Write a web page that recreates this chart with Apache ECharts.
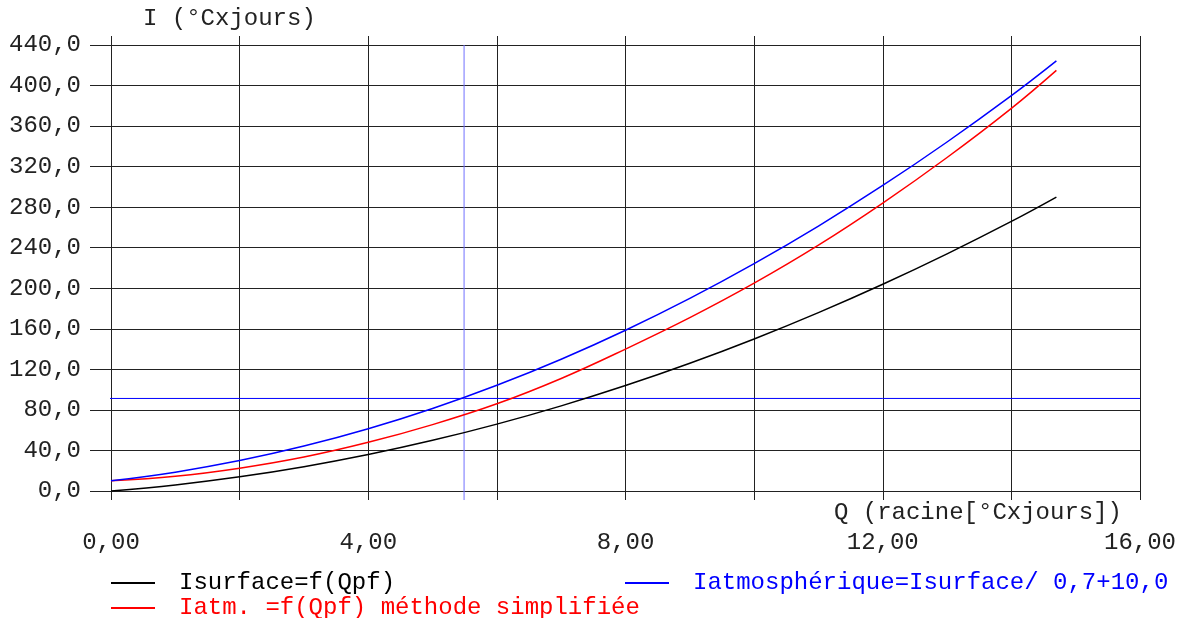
<!DOCTYPE html>
<html>
<head>
<meta charset="utf-8">
<script src="https://cdn.jsdelivr.net/npm/echarts@6/dist/echarts.min.js"></script>
<style>
  html, body { margin: 0; padding: 0; background: #fff; }
  #chart { width: 1186px; height: 618px; }
</style>
</head>
<body>
<div id="chart"></div>
<script>
// Q values (racine[°Cxjours]) at which the curves are sampled
const qValues = [0, 1, 2, 3, 4, 5, 6, 7, 8, 9, 10, 11, 12, 13, 14, 14.7];
// Isurface = f(Qpf)
const iSurface = [0, 6, 14, 24, 36, 50, 66, 84, 104, 126, 150, 176, 204, 234, 266, 290];
// Iatm. = f(Qpf), simplified method
const iAtmSimple = [10, 14.5, 22.5, 33.5, 48, 65.5, 86, 111, 140, 171, 205, 242.5, 284, 329, 377.5, 415];
// Iatmosphérique = Isurface / 0,7 + 10,0
const iAtmos = [10, 18.6, 30, 44.3, 61.4, 81.4, 104.3, 130, 158.6, 190, 224.3, 261.4, 301.4, 344.3, 390, 424.3];

// reading cursor placed on the Iatmosphérique curve
const cursorQ = 5.49;
const cursorI = 91.3;

const seriesNames = [
  'Isurface=f(Qpf)',
  'Iatm. =f(Qpf) méthode simplifiée',
  'Iatmosphérique=Isurface/ 0,7+10,0'
];
const seriesColors = ['#000000', '#ff0000', '#0000ff'];

const xMin = 0, xMax = 16, xStep = 2;
const yMin = 0, yMax = 440, yStep = 40;

const FONT = '"Liberation Mono", "Courier New", monospace';
const FS = 24;
const GRID = '#222';

function pairs(ys) { return qValues.map((q, i) => [q, ys[i]]); }
function fmtX(v) { return (v % 4 === 0) ? v.toFixed(2).replace('.', ',') : ''; }
function fmtY(v) { return v.toFixed(1).replace('.', ','); }

const chart = echarts.init(document.getElementById('chart'), null, { renderer: 'canvas' });

const curveStyle = (idx) => ({
  type: 'line',
  name: seriesNames[idx],
  showSymbol: false,
  symbol: 'none',
  smooth: 0.4,
  color: seriesColors[idx],
  lineStyle: { color: seriesColors[idx], width: 1.5 },
  z: 5
});

const legendBase = {
  orient: 'horizontal',
  icon: 'rect',
  itemWidth: 44,
  itemHeight: 2,
  padding: 0,
  selectedMode: false
};

chart.setOption({
  animation: false,
  backgroundColor: '#fff',
  textStyle: { fontFamily: FONT },
  grid: { left: 111, right: 46, top: 45, bottom: 127, containLabel: false },
  xAxis: [
    {
      type: 'value', min: xMin, max: xMax, interval: xStep, position: 'bottom',
      name: 'Q (racine[°Cxjours])', nameLocation: 'end', nameGap: -18,
      nameTextStyle: { fontFamily: FONT, fontSize: FS, color: '#222', align: 'right', verticalAlign: 'top', padding: [10, 0, 0, 0] },
      axisLine: { show: true, lineStyle: { color: GRID, width: 1 } },
      axisTick: { show: true, inside: false, length: 9, lineStyle: { color: GRID, width: 1 } },
      axisLabel: { formatter: fmtX, margin: 40, fontFamily: FONT, fontSize: FS, color: '#222', showMinLabel: true, showMaxLabel: true },
      splitLine: { show: true, lineStyle: { color: GRID, width: 1 } }
    },
    {
      type: 'value', min: xMin, max: xMax, interval: xStep, position: 'top',
      axisLine: { show: false },
      axisTick: { show: true, inside: false, length: 9, lineStyle: { color: GRID, width: 1 } },
      axisLabel: { show: false },
      splitLine: { show: false }
    }
  ],
  yAxis: {
    type: 'value', min: yMin, max: yMax, interval: yStep,
    name: 'I (°Cxjours)', nameLocation: 'end', nameGap: 26,
    nameTextStyle: { fontFamily: FONT, fontSize: FS, color: '#222', align: 'left', verticalAlign: 'middle', padding: [0, 0, 0, 32] },
    axisLine: { show: true, lineStyle: { color: GRID, width: 1 } },
    axisTick: { show: true, inside: false, length: 21, lineStyle: { color: GRID, width: 1 } },
    axisLabel: { formatter: fmtY, margin: 30, fontFamily: FONT, fontSize: FS, color: '#222' },
    splitLine: { show: true, lineStyle: { color: GRID, width: 1 } }
  },
  legend: [
    Object.assign({}, legendBase, {
      left: 111, top: 571, data: [seriesNames[0]],
      textStyle: { fontFamily: FONT, fontSize: FS, color: '#000', padding: [0, 0, 0, 19] }
    }),
    Object.assign({}, legendBase, {
      left: 111, top: 596, data: [seriesNames[1]],
      textStyle: { fontFamily: FONT, fontSize: FS, color: '#ff0000', padding: [0, 0, 0, 19] }
    }),
    Object.assign({}, legendBase, {
      left: 625, top: 571, data: [seriesNames[2]],
      textStyle: { fontFamily: FONT, fontSize: FS, color: '#0000ff', padding: [0, 0, 0, 19] }
    })
  ],
  series: [
    Object.assign(curveStyle(0), { data: pairs(iSurface) }),
    Object.assign(curveStyle(1), { data: pairs(iAtmSimple) }),
    Object.assign(curveStyle(2), { data: pairs(iAtmos) }),
    {
      // horizontal cursor line, running out past the value axis like the grid ticks
      type: 'line', name: 'cursorH', clip: false, silent: true, symbol: 'none',
      data: [[xMin - 0.4, cursorI], [xMax, cursorI]],
      lineStyle: { color: '#0000ff', width: 1 }, z: 4
    },
    {
      // vertical cursor line, running down past the Q axis
      type: 'line', name: 'cursorV', clip: false, silent: true, symbol: 'none',
      data: [[cursorQ, yMin - 8.9], [cursorQ, yMax]],
      lineStyle: { color: '#7070ff', width: 1 }, z: 4
    }
  ]
});
</script>
</body>
</html>
